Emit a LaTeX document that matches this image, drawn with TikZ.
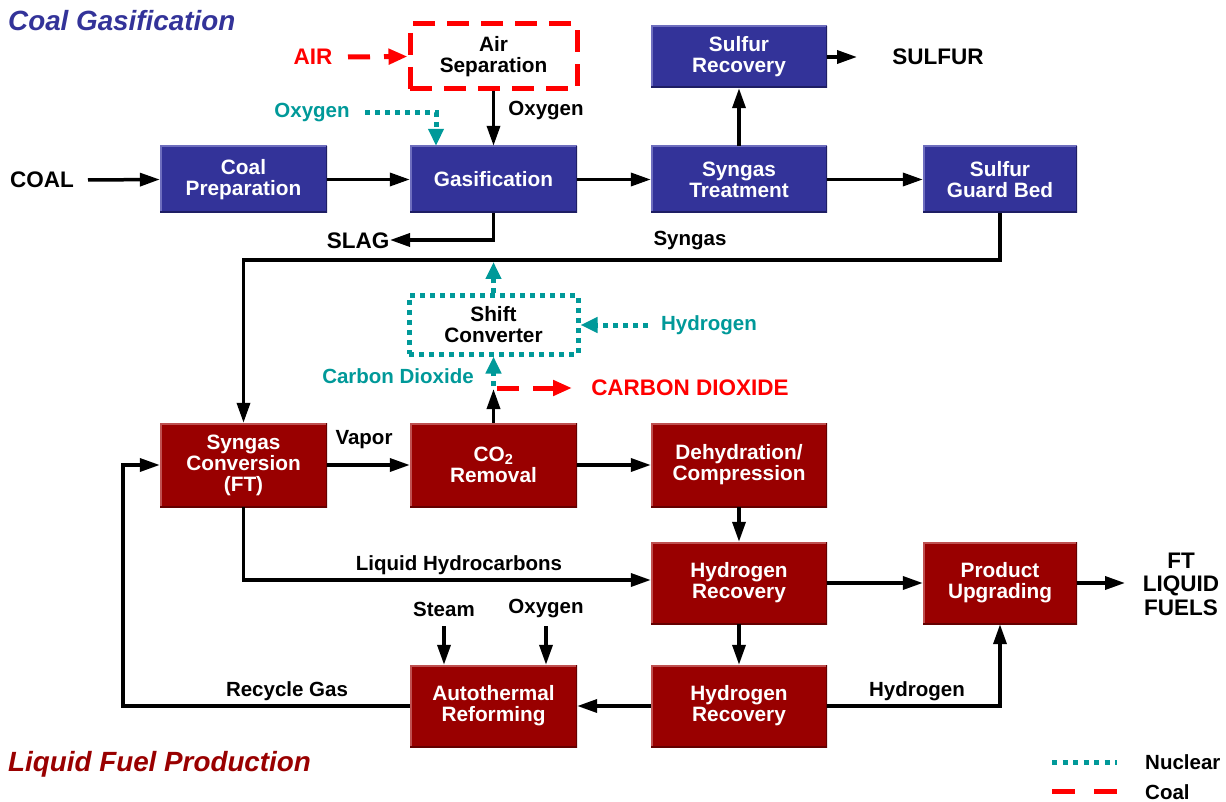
\documentclass[tikz,border=0pt]{standalone}
\usepackage{fontspec}
\setmainfont{Liberation Sans}
\usetikzlibrary{arrows.meta}
\definecolor{cblue}{RGB}{51,51,153}
\definecolor{cbluel}{RGB}{110,110,190}
\definecolor{cblued}{RGB}{30,30,100}
\definecolor{cred}{RGB}{153,0,0}
\definecolor{credl}{RGB}{190,80,80}
\definecolor{credd}{RGB}{100,0,0}
\definecolor{cteal}{RGB}{0,153,153}
\definecolor{bred}{RGB}{255,0,0}
\newcommand{\boxfont}{\bfseries\fontsize{20.8}{21}\selectfont}
\newcommand{\lblfont}{\bfseries\fontsize{20.5}{22}\selectfont}
\newcommand{\capfont}{\bfseries\fontsize{22.5}{23}\selectfont}
\newcommand{\ttlfont}{\bfseries\itshape\fontsize{27.8}{29}\selectfont}
\tikzset{
  x=1pt, y=-1pt,
  pbox/.style={rectangle, inner sep=0pt, align=center, font=\boxfont, text=white},
  bluebox/.style={pbox, fill=cblue,
    path picture={
      \draw[line width=3pt, cbluel] (path picture bounding box.south west) -- (path picture bounding box.north west) -- (path picture bounding box.north east);
      \draw[line width=3pt, cblued] (path picture bounding box.north east) -- (path picture bounding box.south east) -- (path picture bounding box.south west);}},
  redbox/.style={pbox, fill=cred,
    path picture={
      \draw[line width=3pt, credl] (path picture bounding box.south west) -- (path picture bounding box.north west) -- (path picture bounding box.north east);
      \draw[line width=3pt, credd] (path picture bounding box.north east) -- (path picture bounding box.south east) -- (path picture bounding box.south west);}},
  coalbox/.style={rectangle, inner sep=0pt, align=center, font=\boxfont, text=black, draw=bred, line width=5pt, dash pattern=on 22pt off 12pt},
  nucbox/.style={rectangle, inner sep=0pt, align=center, font=\boxfont, text=black, draw=cteal, line width=5pt, dash pattern=on 5pt off 5pt},
  lbl/.style={inner sep=2pt, font=\lblfont, text=black},
  caplbl/.style={inner sep=2pt, font=\capfont, text=black},
  arr/.style={line width=3.5pt, black, -{Triangle[length=20pt,width=13pt]}},
  nucarr/.style={line width=5pt, cteal, dash pattern=on 5pt off 5pt, -{Triangle[length=17pt,width=15pt]}},
  coalarr/.style={line width=5pt, bred, dash pattern=on 22pt off 14pt, -{Triangle[length=19pt,width=15pt]}},
}
\begin{document}
\begin{tikzpicture}
\useasboundingbox (0,0) rectangle (1226,802);

% titles
\node[anchor=west, inner sep=0pt, font=\ttlfont, text=cblue] (t1) at (8,21) {Coal Gasification};
\node[anchor=west, inner sep=0pt, font=\ttlfont, text=cred] (t2) at (8,764) {Liquid Fuel Production};

% boxes
\node[bluebox, minimum width=167pt, minimum height=67pt] (prep) at (243.5,179.5) {Coal\\Preparation};
\node[bluebox, minimum width=167pt, minimum height=67pt] (gas) at (493.5,179.5) {Gasification};
\node[bluebox, minimum width=176pt, minimum height=67pt] (treat) at (739,179.5) {Syngas\\Treatment};
\node[bluebox, minimum width=176pt, minimum height=62pt] (srec) at (739,57) {Sulfur\\Recovery};
\node[bluebox, minimum width=154pt, minimum height=67pt] (guard) at (1000,179.5) {Sulfur\\Guard Bed};
\node[coalbox, minimum width=167pt, minimum height=65pt] (air) at (493.5,56.5) {Air\\Separation};
\node[nucbox, minimum width=169pt, minimum height=58pt] (shift) at (493.5,325) {Shift\\Converter};
\node[redbox, minimum width=167pt, minimum height=84pt] (ft) at (243.5,465) {Syngas\\Conversion\\(FT)};
\node[redbox, minimum width=167pt, minimum height=84pt] (co2) at (493.5,465) {CO\textsubscript{2}\\Removal};
\node[redbox, minimum width=176pt, minimum height=84pt] (dehy) at (739,465) {Dehydration/\\Compression};
\node[redbox, minimum width=176pt, minimum height=82pt] (hr1) at (739,583) {Hydrogen\\Recovery};
\node[redbox, minimum width=154pt, minimum height=82pt] (pu) at (1000,583) {Product\\Upgrading};
\node[redbox, minimum width=176pt, minimum height=82pt] (hr2) at (739,706) {Hydrogen\\Recovery};
\node[redbox, minimum width=167pt, minimum height=82pt] (atr) at (493.5,706) {Autothermal\\Reforming};

% labels
\node[caplbl] (coalL) at (42,180) {COAL};
\node[caplbl] (sulfL) at (938,57) {SULFUR};
\node[caplbl, text=bred] (airL) at (313,57) {AIR};
\node[lbl] (oxL) at (546,111) {Oxygen};
\node[lbl, text=cteal] (oxN) at (312,113) {Oxygen};
\node[caplbl] (slagL) at (358,241) {SLAG};
\node[lbl] (syngasL) at (690,241) {Syngas};
\node[lbl, text=cteal] (h2N) at (709,325) {Hydrogen};
\node[lbl, text=cteal] (cdN) at (398,376) {Carbon Dioxide};
\node[caplbl, text=bred] (cdC) at (690,388) {CARBON DIOXIDE};
\node[lbl] (vapL) at (364,440) {Vapor};
\node[lbl] (liqL) at (459,565) {Liquid Hydrocarbons};
\node[caplbl, align=center, font=\bfseries\fontsize{22.5}{23.5}\selectfont] (ftL) at (1181,584) {FT\\LIQUID\\FUELS};
\node[lbl] (h2L) at (917,691) {Hydrogen};
\node[lbl] (steamL) at (444,609) {Steam};
\node[lbl] (ox2L) at (546,609) {Oxygen};
\node[lbl] (recL) at (287,691) {Recycle Gas};
\node[lbl, anchor=west] (nucL) at (1143,762) {Nuclear};
\node[lbl, anchor=west] (coalLg) at (1143,792) {Coal};

% free ends
\coordinate (coalS) at (88,180);
\coordinate (sulfE) at (857,57);
\coordinate (airS) at (348,57);
\coordinate (oxNS) at (365,113);
\coordinate (slagE) at (390,240);
\coordinate (sg) at (243.5,260);
\coordinate (shiftUp) at (493.5,262);
\coordinate (h2S) at (648,325);
\coordinate (co2Up) at (493.5,389);
\coordinate (cdS) at (493.5,386);
\coordinate (cdR) at (497,388);
\coordinate (cdE) at (572,388);
\coordinate (ftE) at (1125,583);
\coordinate (liqC) at (243.5,580);
\coordinate (steamS) at (444,626);
\coordinate (ox2S) at (546,626);
\coordinate (rc) at (123,706);
\coordinate (rc2) at (123,465);
\coordinate (lgN1) at (1052,762);
\coordinate (lgN2) at (1117,762);
\coordinate (lgC1) at (1052,791);
\coordinate (lgC2) at (1117,791);

% connectors
\draw[arr] (coalS) -- (prep.west);
\draw[arr] (prep.east) -- (gas.west);
\draw[arr] (gas.east) -- (treat.west);
\draw[arr] (treat.east) -- (guard.west);
\draw[arr] (treat.north) -- (srec.south);
\draw[arr] (srec.east) -- (sulfE);
\draw[coalarr] (airS) -- (air.west);
\draw[arr] (air.south) -- (gas.north);
\draw[nucarr] (oxNS) -| ([xshift=-57.5pt]gas.north);
\draw[arr] (gas.south) |- (slagE);
\draw[arr] (guard.south) |- (sg) -- (ft.north);
\draw[nucarr] (shift.north) -- (shiftUp);
\draw[nucarr] (h2S) -- (shift.east);
\draw[arr] (co2.north) -- (co2Up);
\draw[nucarr] (cdS) -- (shift.south);
\draw[coalarr] (cdR) -- (cdE);
\draw[arr] (ft.east) -- (co2.west);
\draw[arr] (co2.east) -- (dehy.west);
\draw[arr] (dehy.south) -- (hr1.north);
\draw[arr] (ft.south) -- (liqC) -- (liqC -| hr1.west);
\draw[arr] (hr1.east) -- (pu.west);
\draw[arr] (pu.east) -- (ftE);
\draw[arr] (hr1.south) -- (hr2.north);
\draw[arr] (hr2.west) -- (atr.east);
\draw[arr] (hr2.east) -| (pu.south);
\draw[arr] (steamS) -- ([xshift=-49.5pt]atr.north);
\draw[arr] (ox2S) -- ([xshift=52.5pt]atr.north);
\draw[arr] (atr.west) -- (rc) -- (rc2) -- (ft.west);
\draw[line width=5pt, cteal, dash pattern=on 5pt off 5.5pt] (lgN1) -- (lgN2);
\draw[line width=5pt, bred, dash pattern=on 23pt off 19pt] (lgC1) -- (lgC2);
\end{tikzpicture}
\end{document}
